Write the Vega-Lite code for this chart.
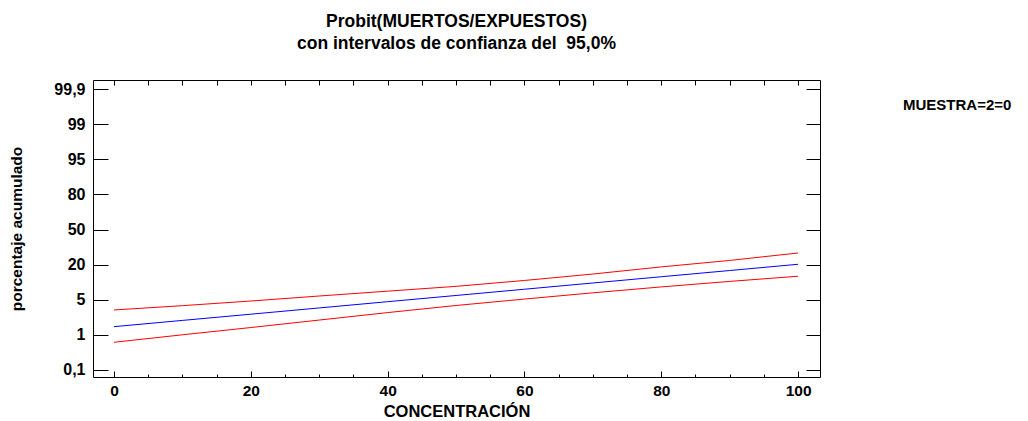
{
  "$schema": "https://vega.github.io/schema/vega-lite/v6.json",
  "width": 727,
  "height": 297,
  "autosize": "none",
  "padding": {"left": 93, "top": 80, "right": 208, "bottom": 44},
  "background": "white",
  "config": {
    "font": "Liberation Sans",
    "view": {"stroke": "black", "strokeWidth": 1},
    "axis": {"domain": false, "grid": false, "tickColor": "black", "labelColor": "black", "titleColor": "black", "labelFont": "Liberation Sans", "titleFont": "Liberation Sans"}
  },
  "title": {
    "text": ["Probit(MUERTOS/EXPUESTOS)", "con intervalos de confianza del \u00a095,0%"],
    "fontSize": 17.5,
    "fontWeight": "bold",
    "lineHeight": 22,
    "anchor": "middle",
    "color": "black",
    "offset": 27
  },
  "data": {
    "values": [
      {"conc": 0, "series": "fit", "pos": 1.234},
      {"conc": 10, "series": "fit", "pos": 1.412},
      {"conc": 20, "series": "fit", "pos": 1.589},
      {"conc": 30, "series": "fit", "pos": 1.767},
      {"conc": 40, "series": "fit", "pos": 1.945},
      {"conc": 50, "series": "fit", "pos": 2.122},
      {"conc": 60, "series": "fit", "pos": 2.300},
      {"conc": 70, "series": "fit", "pos": 2.478},
      {"conc": 80, "series": "fit", "pos": 2.656},
      {"conc": 90, "series": "fit", "pos": 2.833},
      {"conc": 100, "series": "fit", "pos": 3.011},
      {"conc": 0, "series": "upper", "pos": 1.709},
      {"conc": 10, "series": "upper", "pos": 1.832},
      {"conc": 20, "series": "upper", "pos": 1.964},
      {"conc": 30, "series": "upper", "pos": 2.107},
      {"conc": 40, "series": "upper", "pos": 2.245},
      {"conc": 50, "series": "upper", "pos": 2.382},
      {"conc": 60, "series": "upper", "pos": 2.550},
      {"conc": 70, "series": "upper", "pos": 2.733},
      {"conc": 80, "series": "upper", "pos": 2.936},
      {"conc": 90, "series": "upper", "pos": 3.120},
      {"conc": 100, "series": "upper", "pos": 3.333},
      {"conc": 0, "series": "lower", "pos": 0.789},
      {"conc": 10, "series": "lower", "pos": 1.002},
      {"conc": 20, "series": "lower", "pos": 1.209},
      {"conc": 30, "series": "lower", "pos": 1.422},
      {"conc": 40, "series": "lower", "pos": 1.635},
      {"conc": 50, "series": "lower", "pos": 1.837},
      {"conc": 60, "series": "lower", "pos": 2.020},
      {"conc": 70, "series": "lower", "pos": 2.198},
      {"conc": 80, "series": "lower", "pos": 2.366},
      {"conc": 90, "series": "lower", "pos": 2.523},
      {"conc": 100, "series": "lower", "pos": 2.670}
    ]
  },
  "layer": [
    {
      "mark": {"type": "line", "strokeWidth": 1},
      "encoding": {
        "x": {
          "field": "conc",
          "type": "quantitative",
          "scale": {"domain": [-3.07, 103.2], "nice": false, "zero": false},
          "axis": {
            "orient": "bottom",
            "title": "CONCENTRACIÓN",
            "values": [0, 5, 10, 15, 20, 25, 30, 35, 40, 45, 50, 55, 60, 65, 70, 75, 80, 85, 90, 95, 100],
            "labelExpr": "datum.value % 20 === 0 ? datum.label : ''",
            "tickSize": {"condition": {"test": "datum.value % 20 === 0", "value": -6}, "value": -3},
            "labelPadding": 12,
            "labelFontSize": 15.5,
            "labelFontWeight": "bold",
            "titleFontSize": 16.5,
            "titleFontWeight": "bold",
            "titlePadding": 5
          }
        },
        "y": {
          "field": "pos",
          "type": "quantitative",
          "scale": {"domain": [-0.2, 8.26], "nice": false, "zero": false},
          "axis": {
            "orient": "left",
            "title": "porcentaje acumulado",
            "values": [0, 1, 2, 3, 4, 5, 6, 7, 8],
            "labelExpr": "['0,1','1','5','20','50','80','95','99','99,9'][datum.value]",
            "tickSize": -15,
            "labelPadding": 23,
            "labelFontSize": 16,
            "labelFontWeight": "bold",
            "titleFontSize": 15.5,
            "titleFontWeight": "bold",
            "titlePadding": 29
          }
        },
        "color": {
          "field": "series",
          "type": "nominal",
          "scale": {"domain": ["lower", "fit", "upper"], "range": ["#ff0000", "#0000ff", "#ff0000"]},
          "legend": {
            "orient": "none",
            "legendX": 810,
            "legendY": 18,
            "title": "MUESTRA=2=0",
            "titleFontSize": 15,
            "titleFontWeight": "bold",
            "titleColor": "black",
            "titleFont": "Liberation Sans",
            "labelExpr": "''",
            "symbolOpacity": 0,
            "padding": 0
          }
        }
      }
    },
    {
      "mark": {"type": "line", "strokeOpacity": 0},
      "encoding": {
        "x": {
          "field": "conc",
          "type": "quantitative",
          "axis": {
            "orient": "top",
            "title": null,
            "labels": false,
            "values": [0, 5, 10, 15, 20, 25, 30, 35, 40, 45, 50, 55, 60, 65, 70, 75, 80, 85, 90, 95, 100],
            "tickSize": -5
          }
        },
        "y": {
          "field": "pos",
          "type": "quantitative",
          "axis": {
            "orient": "right",
            "title": null,
            "labels": false,
            "values": [0, 1, 2, 3, 4, 5, 6, 7, 8],
            "tickSize": -14
          }
        },
        "detail": {"field": "series", "type": "nominal"}
      }
    }
  ],
  "resolve": {"axis": {"x": "independent", "y": "independent"}}
}
